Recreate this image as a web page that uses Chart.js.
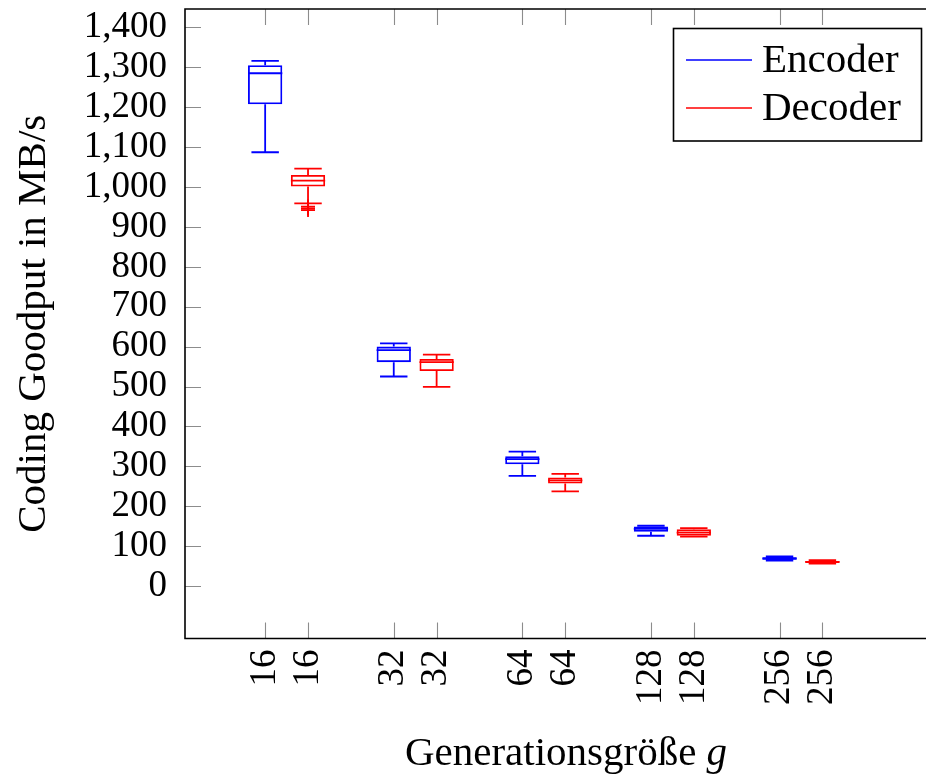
<!DOCTYPE html>
<html><head><meta charset="utf-8">
<script src="https://cdn.jsdelivr.net/npm/chart.js@4.4.1/dist/chart.umd.min.js"></script>
<style>html,body{margin:0;padding:0;background:#fff;overflow:hidden;}#c{display:block;width:940px;height:774px;}</style>
</head><body><canvas id="c" width="940" height="774"></canvas>
<script>
// ---- data ----
const generationSizes = ['16', '32', '64', '128', '256'];
const seriesNames = ['Encoder', 'Decoder'];
const encoderMin    = [1087, 525, 276, 126, 64];
const encoderQ1     = [1207, 561, 305, 136, 66];
const encoderMedian = [1285, 591, 318, 143, 69];
const encoderQ3     = [1305, 600, 325, 149, 72];
const encoderMax    = [1316, 608, 337, 151, 74];
const encoderOutliers = [[], [], [], [], []];
const decoderMin    = [959, 499, 237, 124, 56];
const decoderQ1     = [1001, 539, 257, 126, 58];
const decoderMedian = [1016, 561, 265, 134, 60.5];
const decoderQ3     = [1030, 569, 272, 142, 63];
const decoderMax    = [1046, 580, 281, 145, 65];
const decoderOutliers = [[951, 946, 942], [], [], [], []];
const yTickValues = [0, 100, 200, 300, 400, 500, 600, 700, 800, 900, 1000, 1100, 1200, 1300, 1400];

// ---- layout / style ----
const BLUE = '#0000ff', RED = '#ff0000';
const FONT = "'Liberation Serif', 'Times New Roman', serif";
const encPos = generationSizes.map((_, i) => 3 * i + 1);
const decPos = generationSizes.map((_, i) => 3 * i + 2);
const tickPositions = [];
const tickLabelMap = {};
generationSizes.forEach((g, i) => {
  tickPositions.push(encPos[i], decPos[i]);
  tickLabelMap[encPos[i]] = g; tickLabelMap[decPos[i]] = g;
});
const BOX_HALF = 0.4, CAP_HALF = 0.32;

function boxData(pos, q1, q3) {
  return pos.map((p, i) => ({ x: p, y: [q1[i], q3[i]] }));
}
function whiskerData(pos, lo, q1, med, q3, hi) {
  const pts = [];
  const gap = p => ({ x: p, y: null });
  pos.forEach((p, i) => {
    pts.push({ x: p, y: q3[i] }, { x: p, y: hi[i] }, gap(p));
    pts.push({ x: p - CAP_HALF, y: hi[i] }, { x: p + CAP_HALF, y: hi[i] }, gap(p));
    pts.push({ x: p, y: q1[i] }, { x: p, y: lo[i] }, gap(p));
    pts.push({ x: p - CAP_HALF, y: lo[i] }, { x: p + CAP_HALF, y: lo[i] }, gap(p));
    pts.push({ x: p - BOX_HALF, y: med[i] }, { x: p + BOX_HALF, y: med[i] }, gap(p));
  });
  return pts;
}
function outlierData(pos, outl) {
  const pts = [];
  pos.forEach((p, i) => outl[i].forEach(v => pts.push({ x: p, y: v })));
  return pts;
}

const frameAndTicks = {
  id: 'frameAndTicks',
  afterDatasetsDraw(chart) {
    const { ctx, chartArea: a, scales: { x, y } } = chart;
    ctx.save();
    ctx.strokeStyle = 'rgba(0,0,0,0.45)';
    ctx.lineWidth = 1.1;
    ctx.beginPath();
    x.ticks.forEach(t => {
      const px = Math.round(x.getPixelForValue(t.value)) + 0.5;
      ctx.moveTo(px, a.bottom); ctx.lineTo(px, a.bottom - 16);
      ctx.moveTo(px, a.top); ctx.lineTo(px, a.top + 16);
    });
    y.ticks.forEach(t => {
      const py = Math.round(y.getPixelForValue(t.value)) + 0.5;
      ctx.moveTo(a.left, py); ctx.lineTo(a.left + 16, py);
    });
    ctx.stroke();
    ctx.strokeStyle = '#000';
    ctx.lineWidth = 1.6;
    ctx.beginPath();
    ctx.moveTo(chart.width, a.top); ctx.lineTo(a.left, a.top);
    ctx.lineTo(a.left, a.bottom); ctx.lineTo(chart.width, a.bottom);
    ctx.stroke();
    ctx.restore();
  },
  afterDraw(chart) {
    const { ctx } = chart;
    ctx.save();
    // x axis title with italic g
    const t1 = 'Generationsgröße ', t2 = 'g';
    ctx.font = '41px ' + FONT;
    const w1 = ctx.measureText(t1).width;
    ctx.font = 'italic 41px ' + FONT;
    const w2 = ctx.measureText(t2).width;
    const sx = 566 - (w1 + w2) / 2;
    ctx.fillStyle = '#000';
    ctx.textBaseline = 'alphabetic';
    ctx.font = '41px ' + FONT;
    ctx.fillText(t1, sx, 765);
    ctx.font = 'italic 41px ' + FONT;
    ctx.fillText(t2, sx + w1, 765);
    // legend
    const lx = 673.5, ly = 28.5, lw = 248, lh = 112.5;
    ctx.fillStyle = '#fff';
    ctx.fillRect(lx, ly, lw, lh);
    ctx.strokeStyle = '#000';
    ctx.lineWidth = 1.6;
    ctx.strokeRect(lx, ly, lw, lh);
    const colors = [BLUE, RED];
    const rows = [60, 108];
    ctx.font = '41px ' + FONT;
    seriesNames.forEach((name, i) => {
      ctx.strokeStyle = colors[i];
      ctx.lineWidth = 1.6;
      ctx.beginPath();
      ctx.moveTo(686, rows[i]); ctx.lineTo(752, rows[i]);
      ctx.stroke();
      ctx.fillStyle = '#000';
      ctx.fillText(name, 762, rows[i] + 12);
    });
    ctx.restore();
  }
};

new Chart(document.getElementById('c'), {
  data: {
    datasets: [
      { type: 'bar', label: seriesNames[0], data: boxData(encPos, encoderQ1, encoderQ3),
        borderColor: BLUE, backgroundColor: 'rgba(0,0,0,0)', borderWidth: 1.8, borderSkipped: false },
      { type: 'bar', label: seriesNames[1], data: boxData(decPos, decoderQ1, decoderQ3),
        borderColor: RED, backgroundColor: 'rgba(0,0,0,0)', borderWidth: 1.8, borderSkipped: false },
      { type: 'scatter', label: seriesNames[0] + ' whiskers', showLine: true, spanGaps: false,
        data: whiskerData(encPos, encoderMin, encoderQ1, encoderMedian, encoderQ3, encoderMax),
        borderColor: BLUE, borderWidth: 1.8, pointRadius: 0, tension: 0 },
      { type: 'scatter', label: seriesNames[1] + ' whiskers', showLine: true, spanGaps: false,
        data: whiskerData(decPos, decoderMin, decoderQ1, decoderMedian, decoderQ3, decoderMax),
        borderColor: RED, borderWidth: 1.8, pointRadius: 0, tension: 0 },
      { type: 'scatter', label: seriesNames[0] + ' outliers',
        data: outlierData(encPos, encoderOutliers),
        pointStyle: 'cross', pointRadius: 7, borderColor: BLUE, borderWidth: 1.8 },
      { type: 'scatter', label: seriesNames[1] + ' outliers',
        data: outlierData(decPos, decoderOutliers),
        pointStyle: 'cross', pointRadius: 7, borderColor: RED, borderWidth: 1.8 }
    ]
  },
  options: {
    responsive: false,
    maintainAspectRatio: false,
    animation: false,
    devicePixelRatio: 1,
    layout: { autoPadding: false, padding: { top: 9, right: 10, bottom: 0, left: 0 } },
    plugins: { legend: { display: false }, tooltip: { enabled: false } },
    datasets: { bar: { grouped: false, barPercentage: 0.8, categoryPercentage: 1 } },
    scales: {
      x: {
        type: 'linear', position: 'bottom', min: -0.87, max: 16.51, offset: false,
        afterBuildTicks: s => { s.ticks = tickPositions.map(v => ({ value: v })); },
        afterFit: s => { s.height = 135.5; s.paddingLeft = 0; s.paddingRight = 0; },
        grid: { display: false, drawTicks: false, offset: false },
        border: { display: false },
        ticks: {
          autoSkip: false, minRotation: 90, maxRotation: 90, padding: 11,
          color: '#000', font: { family: FONT, size: 37 },
          callback: v => tickLabelMap[v] ?? ''
        }
      },
      y: {
        type: 'linear', position: 'left', min: -131.5, max: 1446,
        afterBuildTicks: s => { s.ticks = yTickValues.map(v => ({ value: v })); },
        afterFit: s => { s.width = 185; s.paddingTop = 0; s.paddingBottom = 0; },
        grid: { display: false, drawTicks: false },
        border: { display: false },
        ticks: {
          autoSkip: false, padding: 18, color: '#000', font: { family: FONT, size: 37 },
          callback: v => v.toLocaleString('en-US')
        },
        title: {
          display: true, text: 'Coding Goodput in MB/s', color: '#000',
          font: { family: FONT, size: 41, lineHeight: 1.2 }, padding: { top: 10, bottom: 0 }
        }
      }
    }
  },
  plugins: [frameAndTicks]
});
</script>
</body></html>
